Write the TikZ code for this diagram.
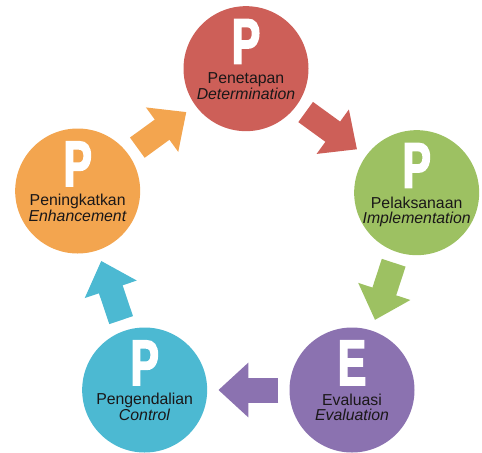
\documentclass[tikz,border=0pt]{standalone}
\usepackage{fontspec}
\setmainfont{Liberation Sans}
\newfontfamily\heavyfont[FakeStretch=0.66, FakeBold=2.5]{Liberation Sans Bold}
\usetikzlibrary{arrows.meta}

\definecolor{planred}{HTML}{CD5F58}
\definecolor{dogreen}{HTML}{9DC162}
\definecolor{checkpurple}{HTML}{8B72B0}
\definecolor{controlblue}{HTML}{4CB9D2}
\definecolor{actorange}{HTML}{F3A54F}
\definecolor{labelgray}{HTML}{1A1718}

\begin{document}
\begin{tikzpicture}
    % Define styles
    \tikzset{
        phase/.style={circle, minimum size=3.75cm, inner sep=0pt},
        letter/.style={text=white, anchor=base, inner sep=0pt, font=\fontsize{55}{55}\heavyfont},
        caption/.style={anchor=base, align=center, inner sep=0pt, text=labelgray, font=\fontsize{13.5}{12.4}\selectfont},
        flow/.style={line width=0.75cm, -{Triangle[length=0.9cm, width=1.59cm]}, shorten <=0.33cm, shorten >=0.33cm}
    }
    \useasboundingbox (0,0) rectangle (14.46,-13.56);

    % Circles
    \node[phase, fill=planred] (plan) at (7.38,-2.06) {};
    \node[phase, fill=dogreen] (do) at (12.50,-5.78) {};
    \node[phase, fill=checkpurple] (check) at (10.56,-11.70) {};
    \node[phase, fill=controlblue] (control) at (4.34,-11.70) {};
    \node[phase, fill=actorange] (act) at (2.33,-5.73) {};

    % Letters
    \node[letter] (planL) at (7.38,-1.91) {P};
    \node[letter] (doL) at (12.50,-5.63) {P};
    \node[letter] (checkL) at (10.56,-11.55) {E};
    \node[letter] (controlL) at (4.34,-11.55) {P};
    \node[letter] (actL) at (2.33,-5.58) {P};

    % Labels
    \node[caption] (planT) at (7.38,-2.97) {Penetapan\\\textit{Determination}};
    \node[caption] (doT) at (12.50,-6.69) {Pelaksanaan\\\textit{Implementation}};
    \node[caption] (checkT) at (10.56,-12.61) {Evaluasi\\\textit{Evaluation}};
    \node[caption] (controlT) at (4.34,-12.61) {Pengendalian\\\textit{Control}};
    \node[caption] (actT) at (2.33,-6.64) {Peningkatkan\\\textit{Enhancement}};

    % Arrows
    \draw[flow, planred] (plan) -- (do);
    \draw[flow, dogreen] (do) -- (check);
    \draw[flow, checkpurple] (check) -- (control);
    \draw[flow, controlblue] (control) -- (act);
    \draw[flow, actorange] (act) -- (plan);
\end{tikzpicture}
\end{document}
